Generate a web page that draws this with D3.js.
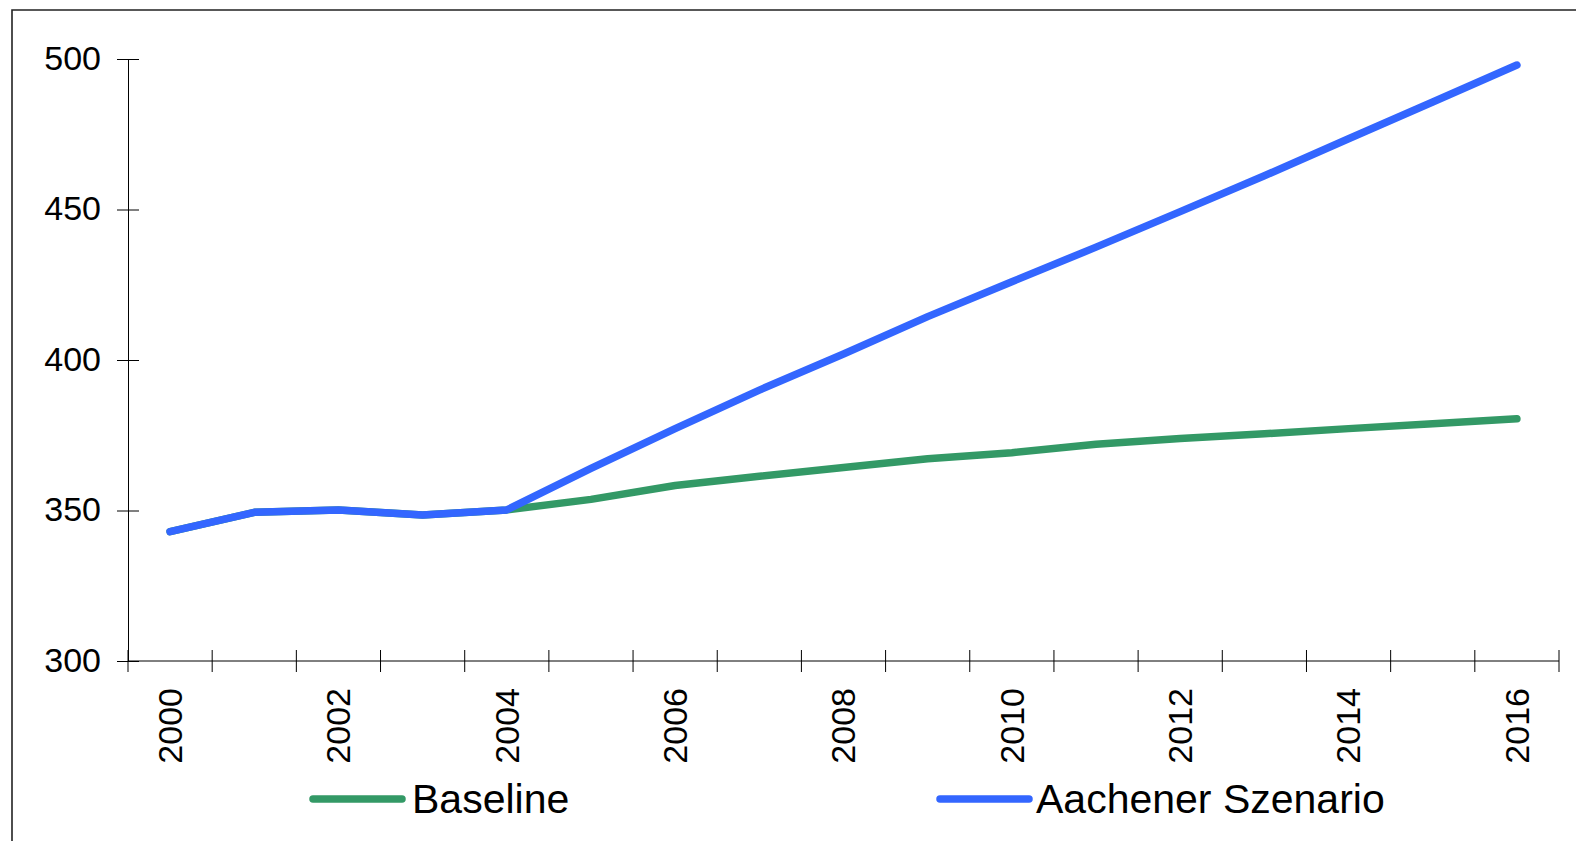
<!DOCTYPE html>
<html>
<head>
<meta charset="utf-8">
<script src="https://cdn.jsdelivr.net/npm/d3@7"></script>
<style>
  html, body { margin: 0; padding: 0; background: #fff; }
  svg { display: block; font-family: "Liberation Sans", Arial, sans-serif; }
</style>
</head>
<body>
<svg id="chart" width="1576" height="841"></svg>
<script>
// Years on the category axis
const years = ["2000","2001","2002","2003","2004","2005","2006","2007","2008",
               "2009","2010","2011","2012","2013","2014","2015","2016"];
// Labelled years (every second one)
const yearLabels = ["2000","2002","2004","2006","2008","2010","2012","2014","2016"];
// Series values
const baseline = [343, 349.4, 350.2, 348.5, 350.2, 353.7, 358.3, 361.4, 364.3,
                  367.2, 369.2, 372, 373.9, 375.5, 377.2, 378.8, 380.5];
const aachen   = [343, 349.4, 350.2, 348.5, 350.2, 364, 377.2, 390, 402,
                  414.4, 426, 437.5, 449.3, 461.2, 473.5, 485.7, 498];
// Value axis ticks
const yTicks = [300, 350, 400, 450, 500];

const series = [
  { name: "Baseline", values: baseline, color: "#339966" },
  { name: "Aachener Szenario", values: aachen, color: "#3366FF" }
];

const svg = d3.select("#chart");

// Outer frame
svg.append("path")
  .attr("d", "M12,841 L12,10 L1576,10")
  .attr("fill", "none").attr("stroke", "#222").attr("stroke-width", 1.6);

const y = d3.scaleLinear().domain([300, 500]).range([661, 59]);
const xBand = d3.scaleBand().domain(years).range([128, 1559]).padding(0);
const xMid = d => xBand(d) + xBand.bandwidth() / 2;

// Y axis with crossing ticks
const yAxis = svg.append("g")
  .attr("transform", "translate(128,0)")
  .call(d3.axisLeft(y).tickValues(yTicks).tickSizeOuter(0).tickSizeInner(11).tickPadding(0));
yAxis.select(".domain").attr("stroke", "#000").attr("stroke-width", 1);
yAxis.selectAll(".tick line").attr("x1", 11).attr("x2", -11).attr("stroke", "#000");
yAxis.selectAll(".tick text")
  .attr("x", -27).attr("dy", "0.3em")
  .attr("font-size", 34).attr("fill", "#000")
  .style("font-family", "'Liberation Sans', Arial, sans-serif");

// X axis line
const xAxis = svg.append("g");
xAxis.append("line")
  .attr("x1", xBand.range()[0]).attr("x2", xBand.range()[1])
  .attr("y1", 661).attr("y2", 661)
  .attr("stroke", "#000").attr("stroke-width", 1);

// Category boundary ticks crossing the axis
const boundaries = years.map(d => xBand(d)).concat([xBand.range()[1]]);
xAxis.selectAll("line.tick")
  .data(boundaries)
  .join("line")
  .attr("class", "tick")
  .attr("x1", d => d).attr("x2", d => d)
  .attr("y1", 650).attr("y2", 672)
  .attr("stroke", "#000").attr("stroke-width", 1);

// Rotated year labels
xAxis.selectAll("text.year")
  .data(yearLabels)
  .join("text")
  .attr("class", "year")
  .attr("transform", d => `translate(${xMid(d)},688) rotate(-90)`)
  .attr("text-anchor", "end")
  .attr("dy", "0.35em")
  .attr("font-size", 34)
  .attr("fill", "#000")
  .text(d => d);

// Series lines
const line = d3.line()
  .x((d, i) => xMid(years[i]))
  .y(d => y(d));

svg.selectAll("path.series")
  .data(series)
  .join("path")
  .attr("class", "series")
  .attr("d", d => line(d.values))
  .attr("fill", "none")
  .attr("stroke", d => d.color)
  .attr("stroke-width", 7.5)
  .attr("stroke-linecap", "round")
  .attr("stroke-linejoin", "round");

// Legend
const legendPos = [{ x: 313, textX: 412 }, { x: 940, textX: 1036 }];
const legend = svg.selectAll("g.legend")
  .data(series)
  .join("g")
  .attr("class", "legend");
legend.append("line")
  .attr("x1", (d, i) => legendPos[i].x)
  .attr("x2", (d, i) => legendPos[i].x + 89)
  .attr("y1", 799).attr("y2", 799)
  .attr("stroke", d => d.color)
  .attr("stroke-width", 7.5)
  .attr("stroke-linecap", "round");
legend.append("text")
  .attr("x", (d, i) => legendPos[i].textX)
  .attr("y", 813)
  .attr("font-size", 41)
  .attr("fill", "#000")
  .text(d => d.name);
</script>
</body>
</html>
